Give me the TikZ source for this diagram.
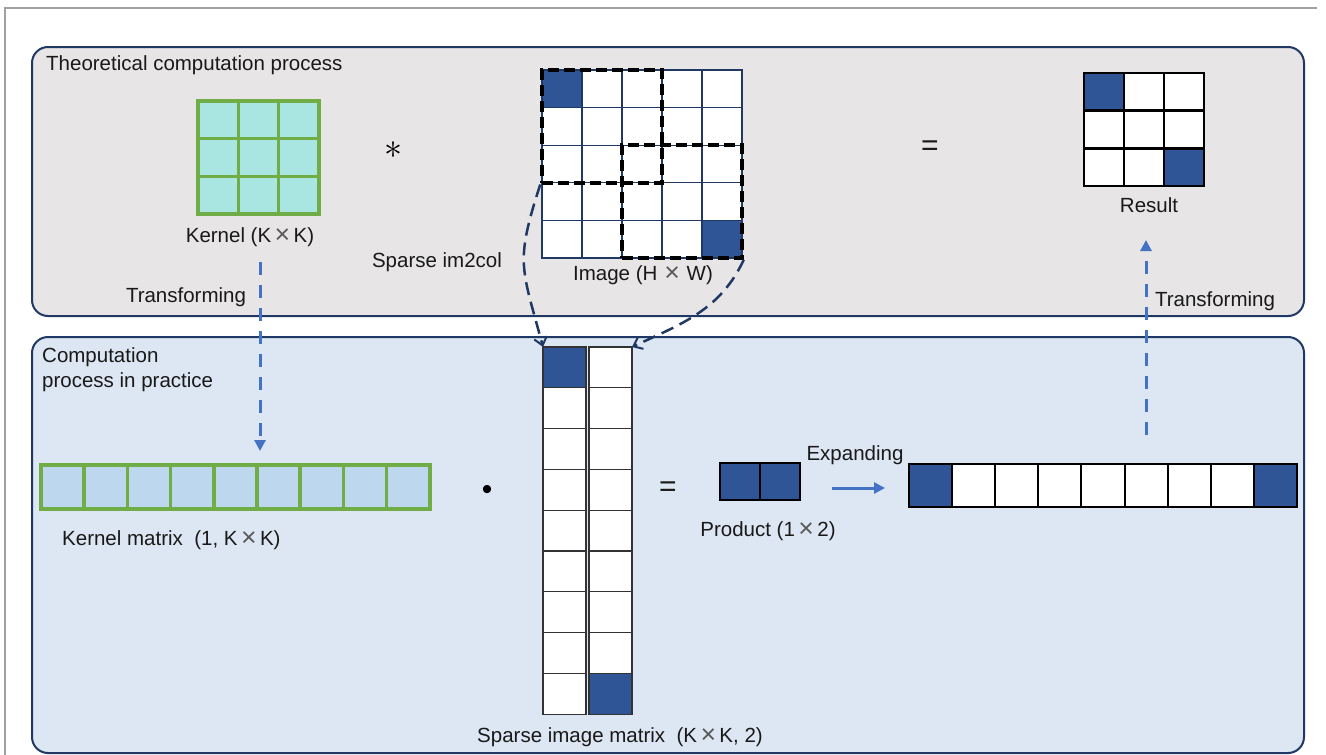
\documentclass[tikz,border=0pt]{standalone}
\usepackage{fontspec}
\usepackage{graphicx}
\setmainfont{Liberation Sans}
\usetikzlibrary{arrows.meta,fit}
\definecolor{navy}{HTML}{203864}
\definecolor{cellblue}{HTML}{2F5597}
\definecolor{kgreen}{HTML}{70AD47}
\definecolor{kfill}{HTML}{A9E5E1}
\definecolor{kmfill}{HTML}{BDD7EE}
\definecolor{arrblue}{HTML}{4472C4}
\definecolor{topfill}{HTML}{E7E5E6}
\definecolor{botfill}{HTML}{DCE7F3}
\definecolor{framegray}{HTML}{A0A0A0}
\newcommand{\tmsglyph}{\,\raisebox{-0.06em}{\scalebox{1.3}{\textcolor{black!65}{\texttimes}}}\,}
\tikzset{
  lbl/.style={font=\fontsize{20.5}{25}\selectfont, text=black!90, inner sep=0pt},
  panel/.style={draw=navy, line width=2pt, rounded corners=16pt},
  cellbase/.style={inner sep=0pt, outer sep=0pt, anchor=north west},
  kcell/.style={cellbase, draw=kgreen, line width=3.5pt, fill=kfill, minimum width=40.33pt, minimum height=37.67pt},
  kmcell/.style={cellbase, draw=kgreen, line width=3.5pt, fill=kmfill, minimum width=43.2pt, minimum height=44pt},
  icell/.style={cellbase, draw=navy, line width=1.3pt, fill=white, minimum width=40pt, minimum height=37.6pt},
  rcell/.style={cellbase, draw=black, line width=2.5pt, fill=white, minimum width=40pt, minimum height=37.7pt},
  scell/.style={cellbase, draw=black!80, line width=1.3pt, fill=white, minimum width=43pt, minimum height=40.8pt},
  pcell/.style={cellbase, draw=black, line width=2pt, fill=cellblue, minimum width=40pt, minimum height=37pt},
  ecell/.style={cellbase, draw=black, line width=2pt, fill=white, minimum width=43.1pt, minimum height=43pt},
  blue cell/.style={fill=cellblue},
  window/.style={draw=black, line width=3.5pt, dash pattern=on 11pt off 5pt, inner sep=0pt},
  curvearrow/.style={draw=navy, line width=2.5pt, dash pattern=on 13pt off 7pt, -{Straight Barb[length=8pt,width=13pt,line width=2pt]}},
  transarrow/.style={draw=arrblue, line width=3pt, dash pattern=on 13pt off 10pt, -{Triangle[length=11pt,width=11pt]}},
  solidarrow/.style={draw=arrblue, line width=3pt, -{Triangle[length=11pt,width=11pt]}},
}
\begin{document}
\begin{tikzpicture}[x=1pt,y=-1pt]
\useasboundingbox (0,0) rectangle (1326,755);
\fill[white] (0,0) rectangle (1326,755);
% outer frame
\draw[framegray, line width=1.5pt] (5,760) -- (5,8) -- (1317,8);
% panels
\draw[panel, fill=topfill] (32,47) rectangle (1304,316);
\draw[panel, fill=botfill] (32,337) rectangle (1304,753);
\node[lbl, anchor=west] (ttitle) at (46,65) {Theoretical computation process};
\node[lbl, anchor=north west, align=left] (btitle) at (42,347) {Computation\\process in practice};

% kernel 3x3
\foreach \r in {0,1,2}{\foreach \c in {0,1,2}{
  \node[kcell] (k-\r-\c) at ({198+\c*40.33},{101+\r*37.67}) {};
}}
\node[lbl] (klabel) at (250,237) {Kernel (K\tmsglyph K)};
\node[inner sep=0pt] (conv) at (393,150) {\scalebox{3.6}{\fontsize{10}{12}\selectfont$\ast$}};

% image 5x5
\foreach \r in {0,...,4}{\foreach \c in {0,...,4}{
  \node[icell] (i-\r-\c) at ({542+\c*40},{70+\r*37.6}) {};
}}
\node[icell, blue cell] at (i-0-0.north west) {};
\node[icell, blue cell] at (i-4-4.north west) {};
\node[window, fit=(i-0-0)(i-2-2)] (win1) {};
\node[window, fit=(i-2-2)(i-4-4)] (win2) {};
\node[lbl] (ilabel) at (643,275) {Image (H\,\tmsglyph\,W)};
\node[lbl] (im2col) at (437,262) {Sparse im2col};
\node[lbl] (eq1) at (930,148) {\fontsize{30}{30}\selectfont =};

% result 3x3
\foreach \r in {0,1,2}{\foreach \c in {0,1,2}{
  \node[rcell] (r-\r-\c) at ({1084+\c*40},{73+\r*37.7}) {};
}}
\node[rcell, blue cell] at (r-0-0.north west) {};
\node[rcell, blue cell] at (r-2-2.north west) {};
\node[lbl] (rlabel) at (1149,205) {Result};

% kernel matrix row
\foreach \c in {0,...,8}{
  \node[kmcell] (km-\c) at ({41+\c*43.2},465) {};
}
\node[lbl, anchor=west] (kmlabel) at (62,540) {Kernel matrix\ \ (1, K\tmsglyph K)};
\node[inner sep=0pt] (dot) at (487,492) {\fontsize{30}{30}\selectfont\textbullet};

% sparse image matrix
\foreach \r in {0,...,8}{
  \node[scell] (s1-\r) at (543,{347+\r*40.8}) {};
  \node[scell] (s2-\r) at (589,{347+\r*40.8}) {};
}
\node[scell, blue cell] at (s1-0.north west) {};
\node[scell, blue cell] at (s2-8.north west) {};
\node[lbl] (slabel) at (620,737) {Sparse image matrix\ \ (K\tmsglyph K, 2)};
\node[lbl] (eq2) at (668,489) {\fontsize{30}{30}\selectfont =};

% product
\node[pcell] (p-0) at (720,463) {};
\node[pcell] (p-1) at (760,463) {};
\node[lbl] (plabel) at (768,531) {Product (1\tmsglyph 2)};
\node[lbl] (exlabel) at (855,455) {Expanding};

% expanded row
\foreach \c in {0,...,8}{
  \node[ecell] (e-\c) at ({909+\c*43.1},464) {};
}
\node[ecell, blue cell] at (e-0.north west) {};
\node[ecell, blue cell] at (e-8.north west) {};

% connectors
\draw[curvearrow] (win1.south west) to[out=252, in=105, looseness=1.3] (s1-0.north west);
\draw[curvearrow] (win2.south east) to[out=245, in=25] (s2-0.north east);

\coordinate (ta1) at (260,262);
\coordinate (tb1) at (260,451);
\draw[transarrow] (ta1) -- (tb1);
\node[lbl] (tlab1) at (186,297) {Transforming};

\coordinate (ta2) at (1146,435);
\coordinate (tb2) at (1146,240);
\draw[transarrow] (ta2) -- (tb2);
\node[lbl] (tlab2) at (1215,301) {Transforming};

\coordinate (xa) at (832,488);
\coordinate (xb) at (885,488);
\draw[solidarrow] (xa) -- (xb);
\end{tikzpicture}
\end{document}
